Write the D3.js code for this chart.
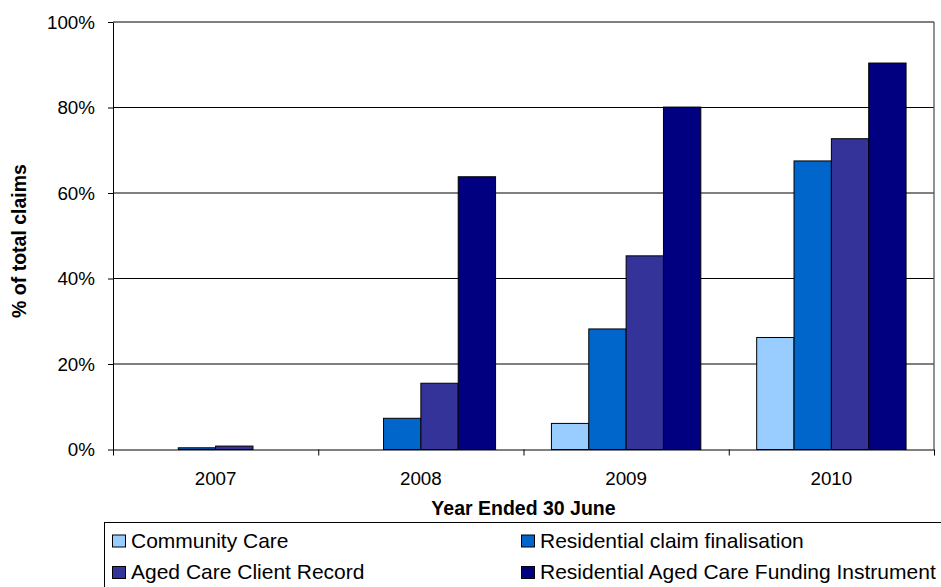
<!DOCTYPE html>
<html>
<head>
<meta charset="utf-8">
<script src="https://cdn.jsdelivr.net/npm/d3@7"></script>
<style>
    body {margin:0; background:white;}
    svg text {font-family:"Liberation Sans", Arial, sans-serif; fill:black;}
</style>
</head>
<body>
<svg id="graph1"></svg>
<script>

// data
var years = ["2007","2008","2009","2010"];
var seriesNames = ["Community Care","Residential claim finalisation","Aged Care Client Record","Residential Aged Care Funding Instrument"];
var communityCare = [0, 0, 6.1, 26.2];
var residentialClaim = [0.4, 7.3, 28.2, 67.5];
var clientRecord = [0.8, 15.5, 45.3, 72.7];
var fundingInstrument = [0, 63.8, 80.1, 90.4];
var yTicks = [0,20,40,60,80,100];
var colors = ["#99CCFF","#0066CC","#333399","#000080"];

var allSeries = [communityCare, residentialClaim, clientRecord, fundingInstrument];

var drawChart = function(target)
{
    //size of the picture
    var screen = {width:941, height:587};
    //where the plot area sits
    var margins = {top:22, bottom:137.5, left:113, right:7};

    var graph =
    {
        width:screen.width-margins.left-margins.right,
        height:screen.height-margins.top-margins.bottom
    }

    var svg = d3.select(target)
        .attr("width",screen.width)
        .attr("height",screen.height)

    var xScale = d3.scaleBand()
        .domain(years)
        .range([0,graph.width])

    var xInner = d3.scaleBand()
        .domain(d3.range(seriesNames.length))
        .range([0,xScale.bandwidth()])
        .paddingOuter(0.748)

    var yScale = d3.scaleLinear()
        .domain([0,100])
        .range([graph.height,0])

    var g = svg.append("g")
        .classed("graph",true)
        .attr("transform","translate("+margins.left+","+margins.top+")")

    //gridlines
    g.append("g")
        .selectAll("line")
        .data(yTicks.filter(function(t){return t>0}))
        .enter()
        .append("line")
        .attr("x1",0)
        .attr("x2",graph.width)
        .attr("y1",function(t){return yScale(t)})
        .attr("y2",function(t){return yScale(t)})
        .attr("stroke","black")
        .attr("stroke-width",1)

    //right border
    g.append("line")
        .attr("x1",graph.width)
        .attr("x2",graph.width)
        .attr("y1",0)
        .attr("y2",graph.height)
        .attr("stroke","#555")
        .attr("stroke-width",1.3)

    //bars
    var groups = g.append("g")
        .selectAll("g")
        .data(years)
        .enter()
        .append("g")
        .attr("transform",function(y){return "translate("+xScale(y)+",0)"})

    groups.selectAll("rect")
        .data(function(y,i)
        {
            return allSeries.map(function(s,k){return {k:k, v:s[i]}})
        })
        .enter()
        .filter(function(d){return d.v>0})
        .append("rect")
        .attr("x",function(d){return xInner(d.k)})
        .attr("width",xInner.bandwidth())
        .attr("y",function(d){return yScale(d.v)})
        .attr("height",function(d){return graph.height-yScale(d.v)})
        .attr("fill",function(d){return colors[d.k]})
        .attr("stroke","black")
        .attr("stroke-width",1)

    //axes
    var yAxis = d3.axisLeft(yScale)
        .tickValues(yTicks)
        .tickSize(5)
        .tickSizeOuter(0)
        .tickPadding(13)
        .tickFormat(function(d){return d+"%"})

    var ya = g.append("g").call(yAxis)
    ya.select(".domain").attr("stroke","black")
    ya.selectAll("text").style("font-size","18.8px").attr("fill","black")

    var bounds = d3.scaleLinear().domain([0,years.length]).range([0,graph.width])
    var xTicks = d3.axisBottom(bounds)
        .tickValues(d3.range(years.length+1))
        .tickSize(6)
        .tickSizeOuter(0)
        .tickFormat("")

    g.append("g")
        .attr("transform","translate(0,"+graph.height+")")
        .call(xTicks)

    var xAxis = d3.axisBottom(xScale)
        .tickSize(0)
        .tickPadding(22)

    var xa = g.append("g")
        .attr("transform","translate(0,"+graph.height+")")
        .call(xAxis)
    xa.select(".domain").remove()
    xa.selectAll("text").style("font-size","18.8px").attr("fill","black")

    //axis titles
    svg.append("text")
        .text("Year Ended 30 June")
        .attr("x",margins.left+graph.width/2)
        .attr("y",515)
        .attr("text-anchor","middle")
        .style("font-size","19.5px")
        .style("font-weight","bold")

    svg.append("g")
        .attr("transform","translate(26,241)")
        .append("text")
        .text("% of total claims")
        .attr("text-anchor","middle")
        .attr("transform","rotate(-90)")
        .style("font-size","19.5px")
        .style("font-weight","bold")

    //legend
    var legend = svg.append("g")
    legend.append("rect")
        .attr("x",104.5)
        .attr("y",522.5)
        .attr("width",850)
        .attr("height",80)
        .attr("fill","white")
        .attr("stroke","black")

    var cols = [112, 521]
    var rows = [547.5, 579]

    var items = legend.selectAll("g.item")
        .data(seriesNames)
        .enter()
        .append("g")
        .classed("item",true)
        .attr("transform",function(n,i)
        {
            return "translate("+cols[i%2]+","+rows[Math.floor(i/2)]+")"
        })

    items.append("rect")
        .attr("x",0.5)
        .attr("y",-12.5)
        .attr("width",13)
        .attr("height",12)
        .attr("fill",function(n,i){return colors[i]})
        .attr("stroke","black")

    items.append("text")
        .text(function(n){return n})
        .attr("x",19)
        .style("font-size","21px")
}

drawChart("#graph1");

</script>
</body>
</html>
